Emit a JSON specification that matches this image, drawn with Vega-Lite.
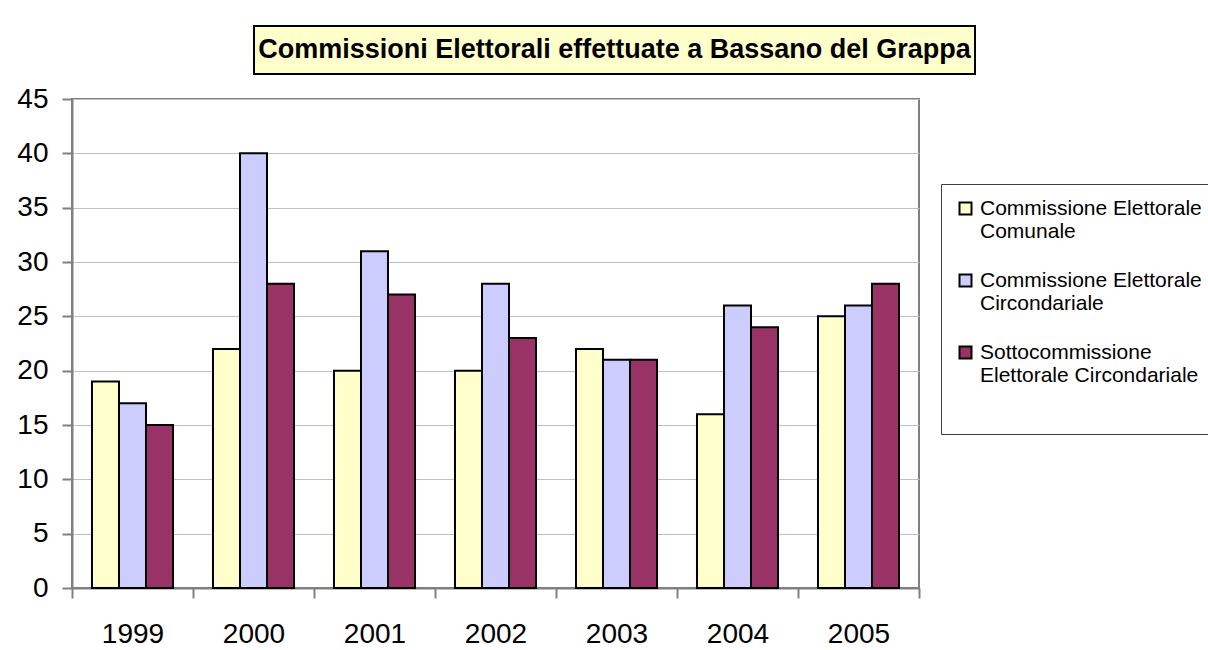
{
  "$schema": "https://vega.github.io/schema/vega-lite/v6.json",
  "padding": {"left": 11, "top": 25, "right": 0, "bottom": 0},
  "background": "white",
  "spacing": 9,
  "config": {
    "font": "Liberation Sans",
    "view": {"stroke": "#808080", "strokeWidth": 2},
    "legend": {
      "orient": "none",
      "legendX": 869,
      "legendY": 158
    }
  },
  "vconcat": [
    {
      "spacing": 10,
      "hconcat": [
        {
          "width": 171,
          "height": 48,
          "view": {"stroke": null, "fill": null},
          "data": {"values": [{"t": ""}]},
          "mark": {"type": "text"},
          "encoding": {"text": {"field": "t"}}
        },
        {
          "width": 721,
          "height": 48,
          "view": {"stroke": "black", "strokeWidth": 2, "fill": "#FFFFCC"},
          "data": {"values": [{"t": "Commissioni Elettorali effettuate a Bassano del Grappa"}]},
          "mark": {"type": "text", "font": "Liberation Sans", "fontWeight": "bold", "fontSize": 27, "color": "black", "baseline": "middle", "align": "center"},
          "encoding": {"text": {"field": "t"}}
        }
      ]
    },
    {
      "width": 847,
      "height": 489,
      "data": {
        "values": [
          {"year": "1999", "series": "Commissione Elettorale Comunale", "value": 19},
          {"year": "1999", "series": "Commissione Elettorale Circondariale", "value": 17},
          {"year": "1999", "series": "Sottocommissione Elettorale Circondariale", "value": 15},
          {"year": "2000", "series": "Commissione Elettorale Comunale", "value": 22},
          {"year": "2000", "series": "Commissione Elettorale Circondariale", "value": 40},
          {"year": "2000", "series": "Sottocommissione Elettorale Circondariale", "value": 28},
          {"year": "2001", "series": "Commissione Elettorale Comunale", "value": 20},
          {"year": "2001", "series": "Commissione Elettorale Circondariale", "value": 31},
          {"year": "2001", "series": "Sottocommissione Elettorale Circondariale", "value": 27},
          {"year": "2002", "series": "Commissione Elettorale Comunale", "value": 20},
          {"year": "2002", "series": "Commissione Elettorale Circondariale", "value": 28},
          {"year": "2002", "series": "Sottocommissione Elettorale Circondariale", "value": 23},
          {"year": "2003", "series": "Commissione Elettorale Comunale", "value": 22},
          {"year": "2003", "series": "Commissione Elettorale Circondariale", "value": 21},
          {"year": "2003", "series": "Sottocommissione Elettorale Circondariale", "value": 21},
          {"year": "2004", "series": "Commissione Elettorale Comunale", "value": 16},
          {"year": "2004", "series": "Commissione Elettorale Circondariale", "value": 26},
          {"year": "2004", "series": "Sottocommissione Elettorale Circondariale", "value": 24},
          {"year": "2005", "series": "Commissione Elettorale Comunale", "value": 25},
          {"year": "2005", "series": "Commissione Elettorale Circondariale", "value": 26},
          {"year": "2005", "series": "Sottocommissione Elettorale Circondariale", "value": 28}
        ]
      },
      "mark": {"type": "bar", "stroke": "black", "strokeWidth": 2},
      "encoding": {
        "x": {
          "field": "year",
          "type": "nominal",
          "scale": {"paddingInner": 0, "paddingOuter": 0},
          "axis": {
            "title": null,
            "labelAngle": 0,
            "labelFontSize": 28,
            "labelColor": "black",
            "labelPadding": 22,
            "tickBand": "extent",
            "tickSize": 10,
            "tickColor": "#808080",
            "tickWidth": 2,
            "domainColor": "#808080",
            "domainWidth": 2,
            "grid": false
          }
        },
        "xOffset": {
          "field": "series",
          "type": "nominal",
          "scale": {"paddingInner": 0, "paddingOuter": 0.74},
          "sort": ["Commissione Elettorale Comunale", "Commissione Elettorale Circondariale", "Sottocommissione Elettorale Circondariale"]
        },
        "y": {
          "field": "value",
          "type": "quantitative",
          "scale": {"domain": [0, 45], "nice": false},
          "axis": {
            "title": null,
            "values": [0, 5, 10, 15, 20, 25, 30, 35, 40, 45],
            "labelFontSize": 28,
            "labelColor": "black",
            "labelPadding": 14,
            "tickSize": 10,
            "tickColor": "#808080",
            "tickWidth": 2,
            "domainColor": "#808080",
            "domainWidth": 2,
            "gridColor": "#C0C0C0",
            "gridWidth": 1,
            "minExtent": 60,
            "maxExtent": 60
          }
        },
        "color": {
          "field": "series",
          "type": "nominal",
          "sort": ["Commissione Elettorale Comunale", "Commissione Elettorale Circondariale", "Sottocommissione Elettorale Circondariale"],
          "scale": {
            "domain": ["Commissione Elettorale Comunale", "Commissione Elettorale Circondariale", "Sottocommissione Elettorale Circondariale"],
            "range": ["#FFFFCC", "#CCCCFF", "#993366"]
          },
          "legend": {
            "title": " ",
            "titleOrient": "bottom",
            "titleFontSize": 20,
            "titlePadding": 14,
            "symbolType": "square",
            "symbolSize": 144,
            "symbolStrokeColor": "black",
            "symbolStrokeWidth": 2,
            "symbolOpacity": 1,
            "labelFontSize": 21,
            "labelColor": "black",
            "labelLimit": 400,
            "labelOffset": 4,
            "labelBaseline": "middle",
            "labelLineHeight": 26,
            "rowPadding": 27,
            "padding": 14,
            "strokeColor": "#404040",
            "fillColor": "white",
            "labelExpr": "datum.label == 'Commissione Elettorale Comunale' ? ['Commissione Elettorale', 'Comunale'] : datum.label == 'Commissione Elettorale Circondariale' ? ['Commissione Elettorale', 'Circondariale'] : ['Sottocommissione', 'Elettorale Circondariale']"
          }
        }
      }
    }
  ]
}
